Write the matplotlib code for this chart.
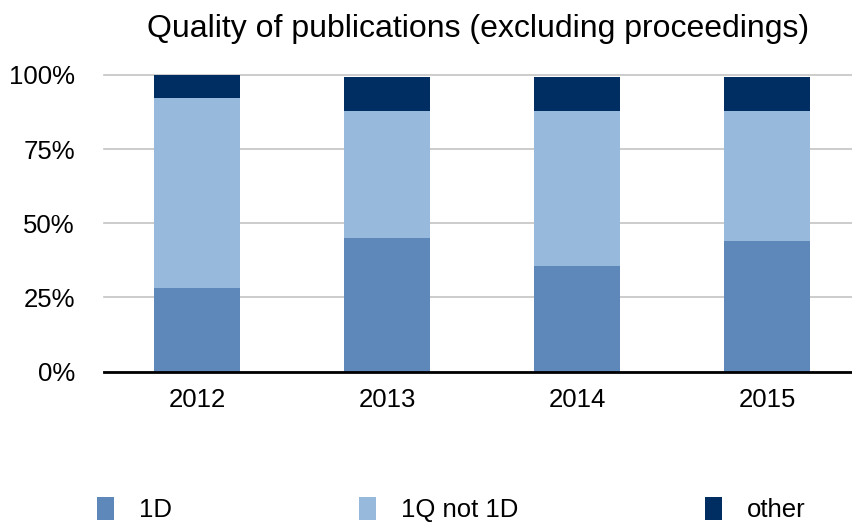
import matplotlib
matplotlib.use("Agg")
import matplotlib.pyplot as plt
from matplotlib.patches import Patch
import numpy as np

plt.rcParams['font.family'] = ['Liberation Sans', 'DejaVu Sans']

years = ["2012", "2013", "2014", "2015"]
series_names = ["1D", "1Q not 1D", "other"]
d1 = [28.3, 45.0, 35.6, 44.0]
q1_not_d1 = [63.9, 42.9, 52.3, 43.9]
other = [7.8, 11.4, 11.4, 11.4]
yticks = [0, 25, 50, 75, 100]
ytick_labels = ["0%", "25%", "50%", "75%", "100%"]
colors = ["#5E88BA", "#97BADC", "#002D62"]

fig = plt.figure(figsize=(8.53, 5.22), dpi=100)
ax = fig.add_axes([104/853, (522-371.5)/522, 1-104/853, (371.5-75)/522])

x = np.arange(len(years))
w = 0.453
bottom = np.zeros(len(years))
for vals, c in zip([d1, q1_not_d1, other], colors):
    ax.bar(x, vals, w, bottom=bottom, color=c, zorder=3)
    bottom += np.array(vals)

ax.set_xlim(-0.49, 3.453)
ax.set_ylim(0, 100)
ax.set_yticks(yticks)
ax.set_yticklabels(ytick_labels)
ax.set_xticks(x)
ax.set_xticklabels(years)
ax.tick_params(axis='both', length=0, labelsize=18.5, colors='#000000')
ax.tick_params(axis='y', pad=21)
ax.tick_params(axis='x', pad=12)
for s in ['left', 'right', 'top']:
    ax.spines[s].set_visible(False)
ax.spines['bottom'].set_linewidth(2)
ax.spines['bottom'].set_color('#000000')
ax.spines['bottom'].set_zorder(5)
ax.yaxis.grid(True, color='#c4c4c4', linewidth=1.2, zorder=0)
for gl in ax.get_ygridlines():
    gl.set_clip_on(False)

fig.text(478/853, 1-29/522, "Quality of publications (excluding proceedings)",
         ha='center', va='center', fontsize=23)

handles = [Patch(facecolor=c, edgecolor='none') for c in colors]
fig.legend(handles, series_names, loc='lower left', ncol=3, mode='expand',
           bbox_to_anchor=(97/853, 0.0, (806-97)/853, 26/522),
           frameon=False, fontsize=18.5, handlelength=0.65, handleheight=1.0,
           handletextpad=1.0, borderpad=0, borderaxespad=0)

fig.savefig("out.png", dpi=100)
